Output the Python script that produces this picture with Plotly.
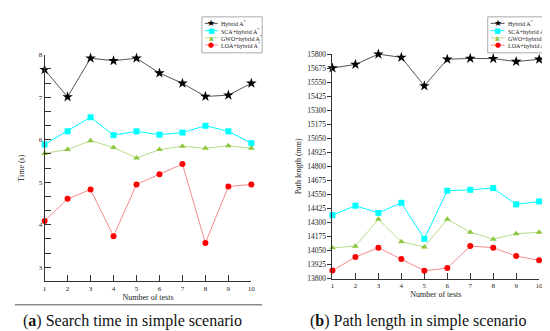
import plotly.graph_objects as go

tests = [1, 2, 3, 4, 5, 6, 7, 8, 9, 10]

# (a) Search time (s)
time_hybrid = [7.65, 7.01, 7.92, 7.86, 7.92, 7.57, 7.33, 7.02, 7.05, 7.33]
time_sca = [5.89, 6.20, 6.53, 6.11, 6.20, 6.12, 6.17, 6.33, 6.20, 5.92]
time_gwo = [5.68, 5.77, 5.98, 5.82, 5.57, 5.77, 5.85, 5.80, 5.86, 5.80]
time_loa = [4.09, 4.61, 4.83, 3.73, 4.95, 5.19, 5.43, 3.57, 4.90, 4.95]

# (b) Path length (mm)
len_hybrid = [15676, 15708, 15800, 15771, 15517, 15754, 15762, 15760, 15734, 15754]
len_sca = [14365, 14449, 14385, 14475, 14154, 14583, 14591, 14606, 14461, 14487]
len_gwo = [14074, 14088, 14328, 14128, 14081, 14328, 14212, 14151, 14200, 14212]
len_loa = [13872, 13991, 14075, 13974, 13870, 13893, 14090, 14075, 14000, 13962]

series_names = ["Hybrid A<sup>*</sup>", "SCA+hybrid A<sup>*</sup>",
                "GWO+hybrid A<sup>*</sup>", "LOA+hybrid A<sup>*</sup>"]

time_ticks = [8/3 + i/3 for i in range(17)]
time_ticktext = [str(round(v)) if abs(v - round(v)) < 1e-6 else "" for v in time_ticks]

W, H = 550, 331
def X(px): return px / W
def Y(py): return 1 - py / H

styles = [
    dict(line_color="#555555", marker_color="#000000", symbol="star", size=8),
    dict(line_color="#00FFFF", marker_color="#00FFFF", symbol="square", size=6),
    dict(line_color="#b8dc8c", marker_color="#8cc63c", symbol="triangle-up", size=6),
    dict(line_color="#f28a8a", marker_color="#ff0000", symbol="circle", size=6),
]

fig = go.Figure()
for data, st, nm in zip([time_hybrid, time_sca, time_gwo, time_loa], styles, series_names):
    fig.add_trace(go.Scatter(x=tests, y=data, mode="lines+markers", name=nm,
                             line=dict(color=st["line_color"], width=1),
                             marker=dict(color=st["marker_color"], symbol=st["symbol"], size=st["size"]),
                             xaxis="x", yaxis="y", showlegend=False, cliponaxis=False))
for data, st, nm in zip([len_hybrid, len_sca, len_gwo, len_loa], styles, series_names):
    fig.add_trace(go.Scatter(x=tests, y=data, mode="lines+markers", name=nm,
                             line=dict(color=st["line_color"], width=1),
                             marker=dict(color=st["marker_color"], symbol=st["symbol"], size=st["size"]),
                             xaxis="x2", yaxis="y2", showlegend=False, cliponaxis=False))

tickfont = dict(family="Liberation Serif", size=7, color="#222")
titlefont = dict(family="Liberation Serif", size=8, color="#222")

axis_common = dict(showgrid=False, zeroline=False, showline=True, linecolor="#333",
                   linewidth=1, tickfont=tickfont, tickcolor="#333")

fig.update_layout(
    width=W, height=H, margin=dict(l=0, r=0, t=0, b=0),
    paper_bgcolor="white", plot_bgcolor="white", showlegend=False,
    xaxis=dict(axis_common, domain=[X(35), X(244)], range=[1, 10], tickvals=tests,
               ticks="inside", ticklen=6, anchor="y",
               title=dict(text="Number of tests", font=titlefont, standoff=2)),
    yaxis=dict(axis_common, domain=[Y(277), Y(44)], range=[8/3, 8], tickvals=time_ticks,
               ticktext=time_ticktext, ticks="inside", ticklen=6, anchor="x",
               title=dict(text="Time (s)", font=titlefont, standoff=12)),
    xaxis2=dict(axis_common, domain=[X(326), X(535)], range=[1, 10], tickvals=tests,
                ticks="inside", ticklen=6, anchor="y2",
                title=dict(text="Number of tests", font=titlefont, standoff=2)),
    yaxis2=dict(axis_common, domain=[Y(274), Y(43.3)], range=[13800, 15800], tick0=13800,
                dtick=125, tickformat="d", ticks="outside", ticklen=4, anchor="x2",
                tickfont=dict(family="Liberation Serif", size=7.5, color="#222"),
                title=dict(text="Path length (mm)", font=titlefont, standoff=4)),
)

# Legends (drawn as layout elements)
legend_font = dict(family="Liberation Serif", size=6, color="#222")
glyphs = ["★", "■", "▲", "●"]
glyph_sizes = [9, 7, 6, 7]
row_y = [11.7, 19.2, 26.6, 34.0]
for bx0, bx1, lx0, lx1, tx in [(194, 255, 197, 210, 211), (483, 546, 486, 500, 501)]:
    fig.add_shape(type="rect", xref="paper", yref="paper", x0=X(bx0), x1=X(bx1),
                  y0=Y(42), y1=Y(5), line=dict(color="#aaaaaa", width=1), fillcolor="white")
    for i, (st, nm) in enumerate(zip(styles, series_names)):
        yy = Y(row_y[i])
        fig.add_shape(type="line", xref="paper", yref="paper", x0=X(lx0), x1=X(lx1),
                      y0=yy, y1=yy, line=dict(color=st["line_color"], width=1))
        fig.add_annotation(x=X((lx0 + lx1) / 2), y=yy, xref="paper", yref="paper",
                           text=glyphs[i], showarrow=False, xanchor="center", yanchor="middle",
                           font=dict(family="DejaVu Sans", size=glyph_sizes[i], color=st["marker_color"]))
        fig.add_annotation(x=X(tx), y=yy, xref="paper", yref="paper", text=nm,
                           showarrow=False, xanchor="left", yanchor="middle", font=legend_font)

# Separator line under panel (a)
fig.add_shape(type="line", xref="paper", yref="paper", x0=X(5), x1=X(255),
              y0=Y(301), y1=Y(301), line=dict(color="#555", width=1))

cap_font = dict(family="Liberation Serif", size=16, color="#111")
fig.add_annotation(x=X(124), y=Y(318), xref="paper", yref="paper",
                   text="(<b>a</b>) Search time in simple scenario", showarrow=False,
                   xanchor="center", yanchor="middle", font=cap_font)
fig.add_annotation(x=X(413), y=Y(318), xref="paper", yref="paper",
                   text="(<b>b</b>) Path length in simple scenario", showarrow=False,
                   xanchor="center", yanchor="middle", font=cap_font)

fig.write_html("out.html")
